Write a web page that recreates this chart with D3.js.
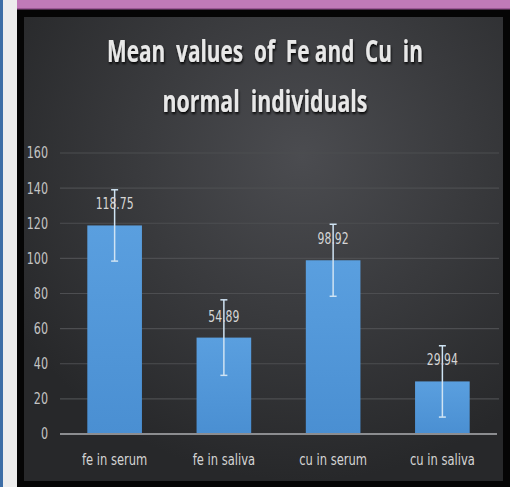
<!DOCTYPE html>
<html>
<head>
<meta charset="utf-8">
<script src="https://cdn.jsdelivr.net/npm/d3@7"></script>
<style>
  html, body { margin: 0; padding: 0; background: #fff; }
  svg { display: block; }
  .narrow { font-family: 'DejaVu Sans', sans-serif; }
</style>
</head>
<body>
<div id="chart"></div>
<script>
// data
const categories = ["fe in serum", "fe in saliva", "cu in serum", "cu in saliva"];
const means = [118.75, 54.89, 98.92, 29.94];
const errors = [20.3, 21.5, 20.5, 20.3];
const yTicks = [0, 20, 40, 60, 80, 100, 120, 140, 160];
const titleLines = ["Mean  values  of  Fe and  Cu  in", "normal  individuals"];

const width = 510;
const height = 487;
const plot = {left: 60, right: 497, top: 153, bottom: 434};

// 把文字橫向壓窄 (沒有 Calibri 這類窄字型)
function squeeze(sel, factor) {
    sel.each(function() {
        const len = this.getComputedTextLength();
        d3.select(this)
            .attr("textLength", len * factor)
            .attr("lengthAdjust", "spacingAndGlyphs");
    });
}

const svg = d3.select("#chart").append("svg")
    .attr("width", width)
    .attr("height", height);

const defs = svg.append("defs");
const grad = defs.append("radialGradient")
    .attr("id", "bg")
    .attr("cx", "58%").attr("cy", "30%").attr("r", "70%");
grad.append("stop").attr("offset", "0%").attr("stop-color", "#4b4c50");
grad.append("stop").attr("offset", "100%").attr("stop-color", "#27282a");

const barGrad = defs.append("linearGradient")
    .attr("id", "bar").attr("x1", 0).attr("x2", 0).attr("y1", 0).attr("y2", 1);
barGrad.append("stop").attr("offset", "0%").attr("stop-color", "#5a9fdf");
barGrad.append("stop").attr("offset", "100%").attr("stop-color", "#4a8fd2");

const shadow = defs.append("filter").attr("id", "shadow")
    .attr("x", "-5%").attr("y", "-20%").attr("width", "110%").attr("height", "150%");
shadow.append("feDropShadow")
    .attr("dx", 1).attr("dy", 2).attr("stdDeviation", 1.2)
    .attr("flood-color", "#000").attr("flood-opacity", 0.9);

// 外框
svg.append("rect").attr("x", 0).attr("y", 0).attr("width", 3).attr("height", height).attr("fill", "#3d6ea6");
svg.append("rect").attr("x", 3).attr("y", 0).attr("width", 14).attr("height", height).attr("fill", "#ededed");
svg.append("rect").attr("x", 17).attr("y", 0).attr("width", width - 17).attr("height", height).attr("fill", "#050505");
svg.append("rect").attr("x", 17).attr("y", 0).attr("width", width - 17).attr("height", 9).attr("fill", "#c17ab8");
svg.append("rect").attr("x", 17).attr("y", 8).attr("width", width - 17).attr("height", 1.5).attr("fill", "#9c5895");
svg.append("rect").attr("x", 24).attr("y", 17).attr("width", 479).attr("height", 464).attr("fill", "url(#bg)");

// scales
const x = d3.scaleBand()
    .domain(categories)
    .range([plot.left, plot.right])
    .paddingInner(0.5)
    .paddingOuter(0.25);

const y = d3.scaleLinear()
    .domain([0, 160])
    .range([plot.bottom, plot.top]);

// gridlines
svg.append("g")
    .selectAll("line")
    .data(yTicks.filter(d => d > 0))
    .join("line")
    .attr("x1", plot.left).attr("x2", plot.right + 2)
    .attr("y1", d => y(d)).attr("y2", d => y(d))
    .attr("stroke", "#4d4e51")
    .attr("stroke-width", 1.2);

// y axis labels
const yAxis = d3.axisLeft(y).tickValues(yTicks).tickSize(0).tickPadding(12);
const yg = svg.append("g")
    .attr("transform", `translate(${plot.left},0)`)
    .call(yAxis)
    .attr("font-family", null);
yg.select(".domain").remove();
yg.selectAll("text")
    .attr("class", "narrow")
    .attr("fill", "#c4c4c4")
    .style("font-size", "15.5px")
    .call(squeeze, 0.72);

// bars
svg.append("g")
    .selectAll("rect")
    .data(means)
    .join("rect")
    .attr("x", (d, i) => x(categories[i]))
    .attr("y", d => y(d))
    .attr("width", x.bandwidth())
    .attr("height", d => y(0) - y(d))
    .attr("fill", "url(#bar)");

// zero line
svg.append("line")
    .attr("x1", plot.left).attr("x2", plot.right)
    .attr("y1", y(0)).attr("y2", y(0))
    .attr("stroke", "#8c8d90")
    .attr("stroke-width", 2);

// x axis labels
const xAxis = d3.axisBottom(x).tickSize(0).tickPadding(20);
const xg = svg.append("g")
    .attr("transform", `translate(0,${plot.bottom})`)
    .call(xAxis)
    .attr("font-family", null);
xg.select(".domain").remove();
xg.selectAll("text")
    .attr("class", "narrow")
    .attr("fill", "#d4d4d4")
    .style("font-size", "16px")
    .call(squeeze, 0.72);

// error bars
const eb = svg.append("g").attr("stroke", "#cfe3f3").attr("stroke-width", 1.5);
means.forEach((m, i) => {
    const cx = x(categories[i]) + x.bandwidth() / 2;
    eb.append("line").attr("x1", cx).attr("x2", cx).attr("y1", y(m + errors[i])).attr("y2", y(m - errors[i]));
    eb.append("line").attr("x1", cx - 3.5).attr("x2", cx + 3.5).attr("y1", y(m + errors[i])).attr("y2", y(m + errors[i]));
    eb.append("line").attr("x1", cx - 3.5).attr("x2", cx + 3.5).attr("y1", y(m - errors[i])).attr("y2", y(m - errors[i]));
});

// data labels
svg.append("g")
    .selectAll("text")
    .data(means)
    .join("text")
    .attr("class", "narrow")
    .attr("x", (d, i) => x(categories[i]) + x.bandwidth() / 2)
    .attr("y", d => y(d) - 16)
    .attr("text-anchor", "middle")
    .attr("fill", "#d6d6d6")
    .style("font-size", "15.5px")
    .text(d => d.toFixed(2))
    .call(squeeze, 0.7);

// title
const titleWidths = [316, 205];
svg.append("g")
    .selectAll("text")
    .data(titleLines)
    .join("text")
    .attr("x", 0)
    .attr("y", 0)
    .attr("text-anchor", "middle")
    .attr("fill", "#e8e8e8")
    .attr("filter", "url(#shadow)")
    .style("font-family", "'Open Sans', sans-serif")
    .style("font-weight", "bold")
    .style("font-size", "31px")
    .style("white-space", "pre")
    .text(d => d)
    .each(function(d, i) {
        const sx = titleWidths[i] / this.getComputedTextLength();
        d3.select(this).attr("transform", `translate(265,${62 + i * 50}) scale(${sx},1)`);
    });
</script>
</body>
</html>
